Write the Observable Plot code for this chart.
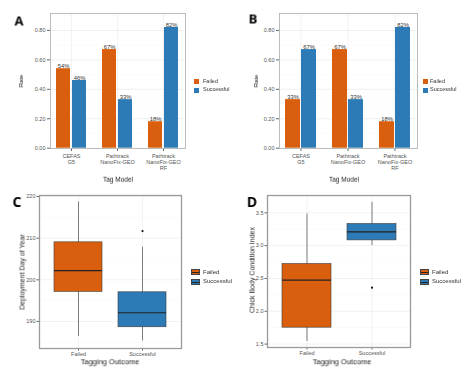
<!DOCTYPE html>
<html><head><meta charset="utf-8">
<script src="https://cdn.jsdelivr.net/npm/d3@7"></script>
<script src="https://cdn.jsdelivr.net/npm/@observablehq/plot@0.6"></script>
<style>
body{margin:0;background:#fff;}
#root{position:relative;width:474px;height:380px;overflow:hidden;font-family:"Liberation Sans",Arial,sans-serif;background:#fff;color:#1a1a1a;}
.abs{position:absolute;white-space:nowrap;line-height:1;will-change:transform;-webkit-font-smoothing:antialiased;}
</style></head><body><div id="root"></div>
<script>
// ---- data ----
const tagModels = ["CEFAS\nG5", "Pathtrack\nNanoFix-GEO", "Pathtrack\nNanoFix-GEO\nRF"];
const outcomes = ["Failed", "Successful"];
const rateFailedA = [0.54, 0.67, 0.18];
const rateSuccessA = [0.46, 0.33, 0.82];
const rateFailedB = [0.33, 0.67, 0.18];
const rateSuccessB = [0.67, 0.33, 0.82];
const rateTicks = [0, 0.2, 0.4, 0.6, 0.8];
const rateMinor = [0.1, 0.3, 0.5, 0.7, 0.9];

const dayMin = [186.4, 185.3];
const dayQ1 = [197.1, 188.6];
const dayMed = [202.2, 192.1];
const dayQ3 = [209.0, 197.0];
const dayMax = [218.7, 207.8];
const dayOutlierOutcome = ["Successful"];
const dayOutlierValue = [211.7];
const dayTicks = [190, 200, 210, 220];
const dayMinor = [185, 195, 205, 215];

const bciMin = [1.54, 3.00];
const bciQ1 = [1.75, 3.08];
const bciMed = [2.475, 3.21];
const bciQ3 = [2.72, 3.33];
const bciMax = [3.48, 3.66];
const bciOutlierOutcome = ["Successful"];
const bciOutlierValue = [2.36];
const bciTicks = [1.5, 2.0, 2.5, 3.0, 3.5];
const bciMinor = [1.75, 2.25, 2.75, 3.25, 3.75];

const ORANGE = "#D95F0E";
const BLUE = "#2C7BB6";
const FONT = "'Liberation Sans', Arial, sans-serif";

const root = document.getElementById("root");

function place(el, left, top) {
  el.style.position = "absolute";
  el.style.left = left + "px";
  el.style.top = top + "px";
  root.appendChild(el);
}

function label(text, cx, cy, size, opts = {}) {
  const d = document.createElement("div");
  d.className = "abs";
  d.textContent = text;
  d.style.left = cx + "px";
  d.style.top = cy + "px";
  d.style.fontSize = size + "px";
  d.style.color = opts.color || "#1a1a1a";
  d.style.fontWeight = opts.bold ? "bold" : "normal";
  if (opts.family) d.style.fontFamily = opts.family;
  d.style.transform = "translate(-50%,-50%)" + (opts.rotate ? " rotate(-90deg)" : " rotate(0.01deg)");
  root.appendChild(d);
}

function legend(x, y, keyW, keyH, gap, textX, size, box) {
  outcomes.forEach((o, i) => {
    const k = document.createElement("div");
    k.className = "abs";
    k.style.left = x + "px";
    k.style.top = (y + i * (keyH + gap)) + "px";
    k.style.width = keyW + "px";
    k.style.height = keyH + "px";
    k.style.background = i === 0 ? ORANGE : BLUE;
    if (box) {
      k.style.boxSizing = "border-box";
      k.style.border = "0.6px solid #444";
      const m = document.createElement("div");
      m.style.position = "absolute";
      m.style.left = "0"; m.style.right = "0";
      m.style.top = (keyH / 2 - 1) + "px";
      m.style.height = "0.8px";
      m.style.background = "#222";
      k.appendChild(m);
    }
    root.appendChild(k);
    const t = document.createElement("div");
    t.className = "abs";
    t.textContent = o;
    t.style.left = textX + "px";
    t.style.top = (y + i * (keyH + gap) + keyH / 2) + "px";
    t.style.transform = "translateY(-50%)";
    t.style.fontSize = size + "px";
    t.style.color = "#333";
    root.appendChild(t);
  });
}

function barPanel(failed, success, marginLeft, marginRight) {
  const rows = tagModels.flatMap((m, i) => [
    {model: m, outcome: "Failed", rate: failed[i]},
    {model: m, outcome: "Successful", rate: success[i]}
  ]);
  const F = rows.filter(d => d.outcome === "Failed");
  const S = rows.filter(d => d.outcome === "Successful");
  const pct = d => Math.round(d.rate * 100) + "%";
  return Plot.plot({
    width: 237, height: 190,
    marginTop: 13, marginBottom: 42, marginLeft, marginRight,
    style: {fontSize: "5.5px", fontFamily: FONT, color: "#4d4d4d", background: "transparent", overflow: "visible"},
    x: {type: "band", domain: tagModels, paddingInner: 0.34, paddingOuter: 0.11},
    y: {domain: [-0.002, 0.915]},
    color: {domain: outcomes, range: [ORANGE, BLUE]},
    marks: [
      Plot.gridY(rateMinor, {stroke: "#000", strokeOpacity: 0.04, strokeWidth: 0.5}),
      Plot.gridY(rateTicks, {stroke: "#000", strokeOpacity: 0.09, strokeWidth: 0.7}),
      Plot.gridX(tagModels, {stroke: "#000", strokeOpacity: 0.07, strokeWidth: 0.7}),
      Plot.barY(F, {x: "model", y: "rate", fill: "outcome", insetRight: 16}),
      Plot.barY(S, {x: "model", y: "rate", fill: "outcome", insetLeft: 16}),
      Plot.text(F, {x: "model", y: "rate", text: pct, dx: -8, dy: -0.5, lineAnchor: "bottom", fill: "#333", fontSize: 5.8}),
      Plot.text(S, {x: "model", y: "rate", text: pct, dx: 8, dy: -0.5, lineAnchor: "bottom", fill: "#333", fontSize: 5.8}),
      Plot.axisY(rateTicks, {tickFormat: d3.format(".2f"), tickSize: 3, tickPadding: 2, label: null, stroke: "#666", fill: "#555"}),
      Plot.axisX({tickSize: 3, tickPadding: 2, label: null, stroke: "#666", fill: "#555", lineHeight: 1.1}),
      Plot.frame({stroke: "#b5b5b5", strokeWidth: 0.9})
    ]
  });
}

function boxPanel(mins, q1s, meds, q3s, maxs, outO, outV, ticks, minor, domain, marginLeft, marginRight, marginBottom) {
  const box = outcomes.map((o, i) => ({outcome: o, min: mins[i], q1: q1s[i], med: meds[i], q3: q3s[i], max: maxs[i]}));
  const outs = outO.map((o, i) => ({outcome: o, value: outV[i]}));
  return Plot.plot({
    width: 237, height: 190,
    marginTop: 5, marginBottom, marginLeft, marginRight,
    style: {fontSize: "5.5px", fontFamily: FONT, color: "#4d4d4d", background: "transparent", overflow: "visible"},
    x: {type: "band", domain: outcomes, paddingInner: 0.25, paddingOuter: 0.225},
    y: {domain},
    color: {domain: outcomes, range: [ORANGE, BLUE]},
    marks: [
      Plot.gridY(minor, {stroke: "#000", strokeOpacity: 0.04, strokeWidth: 0.5}),
      Plot.gridY(ticks, {stroke: "#000", strokeOpacity: 0.08, strokeWidth: 0.7}),
      Plot.gridX(outcomes, {stroke: "#000", strokeOpacity: 0.07, strokeWidth: 0.7}),
      Plot.ruleX(box, {x: "outcome", y1: "min", y2: "max", stroke: "#6e6e6e", strokeWidth: 0.9}),
      Plot.barY(box, {x: "outcome", y1: "q1", y2: "q3", fill: "outcome", stroke: "#3d3d3d", strokeWidth: 0.6}),
      Plot.tickY(box, {x: "outcome", y: "med", stroke: "#222", strokeWidth: 1.1}),
      Plot.dot(outs, {x: "outcome", y: "value", r: 1.1, fill: "#111", stroke: null}),
      Plot.axisY(ticks, {tickSize: 2.5, tickPadding: 1.5, label: null, stroke: "#666", fill: "#555"}),
      Plot.axisX({tickSize: 2.5, tickPadding: 1, label: null, stroke: "#666", fill: "#555"}),
      Plot.frame({stroke: "#9a9a9a", strokeWidth: 1.3})
    ]
  });
}

// Panel A
place(barPanel(rateFailedA, rateSuccessA, 50, 52), 0, 0);
// Panel B
place(barPanel(rateFailedB, rateSuccessB, 42, 57), 237, 0);
// Panel C
place(boxPanel(dayMin, dayQ1, dayMed, dayQ3, dayMax, dayOutlierOutcome, dayOutlierValue,
  dayTicks, dayMinor, [183.5, 220.25], 39, 56, 32), 0, 190);
// Panel D
place(boxPanel(bciMin, bciQ1, bciMed, bciQ3, bciMax, bciOutlierOutcome, bciOutlierValue,
  bciTicks, bciMinor, [1.448, 3.764], 30, 64, 33), 237, 190);

// Axis titles
label("Rate", 21, 81, 6, {rotate: true, color: "#1a1a1a"});
label("Tag Model", 118, 180, 6.5, {color: "#1a1a1a"});
label("Rate", 255.5, 81, 6, {rotate: true, color: "#1a1a1a"});
label("Tag Model", 344, 180, 6.5, {color: "#1a1a1a"});
label("Deployment Day of Year", 21.5, 272, 7, {rotate: true, color: "#1a1a1a"});
label("Tagging Outcome", 110, 361.5, 7.5, {color: "#1a1a1a"});
label("Chick Body Condition Index", 252, 270, 7, {rotate: true, color: "#1a1a1a"});
label("Tagging Outcome", 342, 361.5, 7.5, {color: "#1a1a1a"});

// Panel letters
const LF = "'Open Sans', 'Liberation Sans', Arial, sans-serif";
label("A", 18.7, 21, 13, {bold: true, family: LF, color: "#000"});
label("B", 252.5, 19, 13, {bold: true, family: LF, color: "#000"});
label("C", 16.5, 201.5, 14, {bold: true, family: LF, color: "#000"});
label("D", 252.3, 201.5, 14, {bold: true, family: LF, color: "#000"});

// Legends
legend(194, 79, 5, 5, 3.5, 202.5, 5.5, false);
legend(422.7, 79, 5, 5, 3.5, 430.3, 5.5, false);
legend(190.7, 269, 8.6, 5.5, 4, 202.5, 6, true);
legend(420.3, 269, 8.6, 5.5, 4, 432, 6, true);
</script></body></html>
